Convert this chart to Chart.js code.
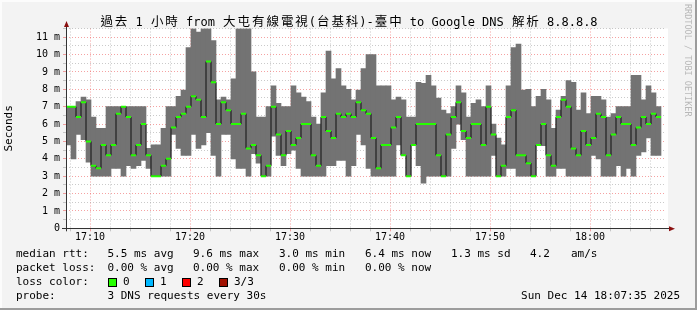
<!DOCTYPE html>
<html>
<head>
<meta charset="utf-8">
<script src="https://cdn.jsdelivr.net/npm/chart.js@4"></script>
<style>
  html, body { margin: 0; padding: 0; background: #f3f3f3; }
  canvas { display: block; }
</style>
</head>
<body>
<canvas id="smoke" width="697" height="310"></canvas>
<script>
const title = '過去 1 小時 from 大屯有線電視(台基科)-臺中 to Google DNS 解析 8.8.8.8';

// samples every 30s starting 17:07:36 (minutes after 17:00)
const startMin = 7.6;
const stepMin = 0.5;

// smoke band (lowest / highest of 3 requests), ms
const smokeLow = [
  4.8, 4.0, 5.4, 5.1, 3.8, 3.0, 3.0, 3.0, 3.0, 3.45,
  3.45, 3.0, 3.6, 3.45, 3.6, 3.9, 3.45, 3.0, 3.0, 3.0,
  3.0, 5.4, 4.6, 4.2, 4.2, 5.4, 4.6, 4.8, 5.5, 4.2,
  3.0, 5.4, 5.4, 4.0, 3.45, 3.45, 3.0, 4.3, 3.75, 3.0,
  3.0, 5.3, 4.2, 3.6, 4.3, 4.5, 3.45, 3.0, 3.0, 3.0,
  3.0, 3.0, 3.6, 3.6, 3.9, 3.9, 3.0, 3.6, 5.4, 4.8,
  3.45, 3.0, 3.0, 3.0, 3.0, 3.0, 4.8, 4.2, 3.0, 4.8,
  3.6, 2.6, 3.0, 3.0, 3.0, 3.0, 3.0, 4.6, 6.0, 5.1,
  3.0, 3.0, 3.0, 3.0, 3.0, 4.2, 3.0, 3.0, 3.45, 3.45,
  3.0, 3.0, 3.0, 3.0, 4.75, 4.75, 3.0, 3.0, 3.45, 3.45,
  3.0, 3.0, 3.0, 3.0, 3.0, 4.2, 4.0, 3.0, 3.0, 3.0,
  3.6, 3.0, 3.45, 3.0, 4.2, 4.4, 5.2, 4.2, 4.2
];
const smokeHigh = [
  7.0, 7.0, 7.3, 7.55, 7.4, 6.4, 5.75, 5.75, 7.0, 7.0,
  7.0, 7.0, 7.0, 7.0, 7.0, 7.0, 4.6, 4.8, 4.8, 5.75,
  7.0, 7.0, 7.6, 7.95, 10.4, 11.5, 11.3, 11.5, 11.5, 10.8,
  7.4, 7.55, 7.4, 8.6, 11.5, 11.5, 11.5, 9.0, 6.4, 6.4,
  7.0, 8.2, 7.2, 7.0, 7.0, 8.2, 7.8, 7.55, 7.3, 6.4,
  6.0, 7.8, 10.2, 8.6, 9.2, 8.2, 8.0, 7.4, 7.95, 9.2,
  10.0, 10.0, 8.2, 8.2, 8.2, 7.4, 7.55, 7.4, 6.4, 6.4,
  8.4, 8.35, 8.8, 8.2, 7.5, 6.8, 6.6, 7.0, 8.2, 7.8,
  6.4, 7.2, 7.4, 7.0, 8.2, 6.0, 5.2, 4.8, 8.2, 10.4,
  10.6, 7.95, 8.0, 7.0, 7.6, 8.0, 7.4, 5.75, 6.8, 7.6,
  8.5, 8.4, 6.8, 7.8, 6.6, 7.6, 7.6, 7.4, 6.4, 6.6,
  7.0, 7.0, 7.0, 8.8, 8.8, 7.4, 8.2, 7.8, 7.0
];
// median rtt, ms
const median = [
  7.0, 7.0, 6.4, 7.25, 5.0, 3.6, 3.45, 4.8, 4.2, 4.8,
  6.6, 7.0, 6.4, 4.2, 4.8, 6.0, 4.2, 3.0, 3.0, 3.6,
  4.0, 5.8, 6.4, 6.6, 7.0, 7.6, 7.4, 6.4, 9.6, 8.4,
  6.0, 7.25, 6.8, 6.0, 6.0, 6.6, 4.6, 4.8, 4.2, 3.0,
  3.6, 7.0, 5.4, 4.2, 5.6, 4.8, 5.2, 6.0, 6.0, 4.2,
  3.6, 6.4, 5.6, 5.2, 6.6, 6.4, 6.6, 6.4, 7.25, 6.8,
  6.6, 5.2, 3.45, 4.8, 4.8, 5.8, 6.4, 4.2, 3.0, 4.8,
  6.0, 6.0, 6.0, 6.0, 4.2, 3.0, 5.4, 6.4, 7.25, 5.6,
  5.2, 6.0, 6.0, 4.8, 7.0, 5.4, 3.0, 3.6, 6.4, 6.8,
  4.2, 4.2, 3.75, 3.0, 4.8, 6.0, 4.2, 3.6, 6.4, 7.4,
  7.0, 4.6, 4.2, 5.6, 4.8, 5.2, 6.6, 6.4, 4.2, 5.4,
  6.4, 6.0, 6.0, 4.8, 5.8, 6.4, 6.0, 6.6, 6.4
];

const majorTicks = [10, 20, 30, 40, 50, 60];
const majorLabels = ['17:10', '17:20', '17:30', '17:40', '17:50', '18:00'];
const yLabels = ['0', '1 m', '2 m', '3 m', '4 m', '5 m', '6 m', '7 m', '8 m', '9 m', '10 m', '11 m'];

const legendRows = [
  ['median rtt:', '5.5 ms avg', '9.6 ms max', '3.0 ms min', '6.4 ms now', '1.3 ms sd', '4.2', 'am/s'],
  ['packet loss:', '0.00 % avg', '0.00 % max', '0.00 % min', '0.00 % now']
];
const lossLabels = ['0', '1', '2', '3/3'];
const lossColors = ['#26ff00', '#00b8ff', '#ff0000', '#a01000'];
const probeText = '3 DNS requests every 30s';
const stampText = 'Sun Dec 14 18:07:35 2025';

const mono = '"DejaVu Sans Mono", monospace';
const times = median.map((_, i) => startMin + stepMin * i + stepMin / 2);

const minorX = [];
for (let m = 8; m <= 66; m += 2) minorX.push(m);
const minorY = [];
for (let v = 0; v <= 11.5; v += 0.5) minorY.push(v);

const gridMajor = 'rgba(235, 70, 70, 0.5)';
const gridMinor = 'rgba(150, 150, 150, 0.5)';

const decor = {
  id: 'decor',
  beforeDraw(chart) {
    const { ctx, chartArea: a } = chart;
    ctx.save();
    ctx.fillStyle = '#f3f3f3';
    ctx.fillRect(0, 0, 697, 310);
    ctx.fillStyle = '#fcfcfc';
    ctx.fillRect(0, 0, 697, 2);
    ctx.fillRect(0, 0, 2, 310);
    ctx.fillStyle = '#9c9c9c';
    ctx.fillRect(0, 308, 697, 2);
    ctx.fillRect(695, 0, 2, 310);
    ctx.fillStyle = '#ffffff';
    ctx.fillRect(a.left, a.top, a.right - a.left + 2, a.bottom - a.top);
    ctx.restore();
  },
  afterDraw(chart) {
    const { ctx, chartArea: a } = chart;
    ctx.save();
    // axes and arrows
    ctx.strokeStyle = '#333';
    ctx.lineWidth = 1;
    ctx.beginPath();
    ctx.moveTo(a.left + 0.5, a.bottom + 3);
    ctx.lineTo(a.left + 0.5, 24);
    ctx.moveTo(a.left - 4, Math.round(a.bottom) + 0.5);
    ctx.lineTo(670, Math.round(a.bottom) + 0.5);
    ctx.stroke();
    ctx.fillStyle = '#8b1010';
    ctx.beginPath();
    ctx.moveTo(a.left - 2, 27);
    ctx.lineTo(a.left + 3, 27);
    ctx.lineTo(a.left + 0.5, 21);
    ctx.fill();
    ctx.beginPath();
    ctx.moveTo(669, a.bottom - 2);
    ctx.lineTo(669, a.bottom + 3);
    ctx.lineTo(675, a.bottom + 0.5);
    ctx.fill();

    // title, CJK glyphs take two cells like in rrdtool
    const cell = 7.22;
    const wide = ch => ch.charCodeAt(0) > 0x2e80;
    let cells = 0;
    for (const ch of title) cells += wide(ch) ? 2 : 1;
    let x = 348.5 - cells * cell / 2;
    ctx.fillStyle = '#000';
    ctx.textAlign = 'center';
    ctx.textBaseline = 'alphabetic';
    for (const ch of title) {
      const w = wide(ch) ? 2 : 1;
      ctx.font = w === 2 ? '12.5px "Noto Sans CJK TC"' : '12px ' + mono;
      ctx.fillText(ch, x + w * cell / 2, 26);
      x += w * cell;
    }

    // watermark
    ctx.save();
    ctx.translate(687, 4);
    ctx.rotate(Math.PI / 2);
    ctx.font = '8.5px ' + mono;
    ctx.fillStyle = '#b8b8b8';
    ctx.textAlign = 'left';
    ctx.textBaseline = 'middle';
    ctx.fillText('RRDTOOL / TOBI OETIKER', 0, 0);
    ctx.restore();

    // legend
    ctx.font = '11px ' + mono;
    ctx.fillStyle = '#000';
    ctx.textAlign = 'left';
    ctx.textBaseline = 'middle';
    const cols = [16, 107.5, 193, 279, 365, 451, 530, 571];
    legendRows.forEach((row, r) => {
      row.forEach((t, c) => ctx.fillText(t, cols[c], 254 + r * 14));
    });
    ctx.fillText('loss color:', 16, 282);
    const boxX = [108, 145, 182, 219];
    lossLabels.forEach((t, i) => {
      ctx.fillStyle = lossColors[i];
      ctx.fillRect(boxX[i], 278, 8, 8);
      ctx.strokeStyle = '#000';
      ctx.strokeRect(boxX[i] + 0.5, 278.5, 8, 8);
      ctx.fillStyle = '#000';
      ctx.fillText(t, boxX[i] + 15, 282);
    });
    ctx.fillText('probe:', 16, 296);
    ctx.fillText(probeText, 107.5, 296);
    ctx.textAlign = 'right';
    ctx.fillText(stampText, 680, 296);
    ctx.restore();
  }
};

const ctx = document.getElementById('smoke').getContext('2d');
new Chart(ctx, {
  type: 'bar',
  data: {
    datasets: [
      {
        type: 'bar',
        data: times.map((t, i) => ({ x: t, y: [smokeLow[i], smokeHigh[i]] })),
        backgroundColor: '#737373',
        borderWidth: 0,
        barPercentage: 1,
        categoryPercentage: 1,
        order: 2
      },
      {
        type: 'line',
        data: times.map((t, i) => ({ x: t, y: median[i] })),
        stepped: 'middle',
        borderColor: '#111',
        borderWidth: 1,
        pointStyle: 'line',
        pointRadius: 2.5,
        pointBorderColor: '#26ff00',
        pointBorderWidth: 2,
        order: 1
      }
    ]
  },
  options: {
    responsive: false,
    animation: false,
    layout: { padding: { top: 28.5, right: 31, left: 0, bottom: 0 } },
    plugins: {
      legend: { display: false },
      tooltip: { enabled: false }
    },
    scales: {
      x: {
        type: 'linear',
        min: 7.6,
        max: 67.6,
        offset: false,
        z: 1,
        afterFit: s => { s.height = 310 - 228.3; },
        afterBuildTicks: s => { s.ticks = minorX.map(v => ({ value: v })); },
        ticks: {
          autoSkip: false,
          maxRotation: 0,
          padding: 0,
          color: '#000',
          font: { family: mono, size: 10 },
          callback: v => {
            const k = majorTicks.indexOf(v);
            return k >= 0 ? majorLabels[k] : '';
          }
        },
        grid: {
          offset: false,
          tickLength: 3,
          lineWidth: 1,
          color: c => majorTicks.includes(c.tick.value) ? gridMajor : gridMinor
        },
        border: { display: false, dash: [1, 2] }
      },
      y: {
        min: 0,
        max: 11.5,
        z: 1,
        afterFit: s => { s.width = 66; },
        afterBuildTicks: s => { s.ticks = minorY.map(v => ({ value: v })); },
        ticks: {
          autoSkip: false,
          padding: 3,
          color: '#000',
          font: { family: mono, size: 10 },
          callback: v => Number.isInteger(v) ? yLabels[v] : ''
        },
        grid: {
          tickLength: 3,
          lineWidth: 1,
          color: c => Number.isInteger(c.tick.value) && c.tick.value > 0 ? gridMajor : gridMinor
        },
        border: { display: false, dash: [1, 2] },
        title: {
          display: true,
          text: 'Seconds',
          color: '#000',
          font: { family: mono, size: 11 },
          padding: { top: 3, bottom: 0 }
        }
      }
    }
  },
  plugins: [decor]
});
</script>
</body>
</html>
